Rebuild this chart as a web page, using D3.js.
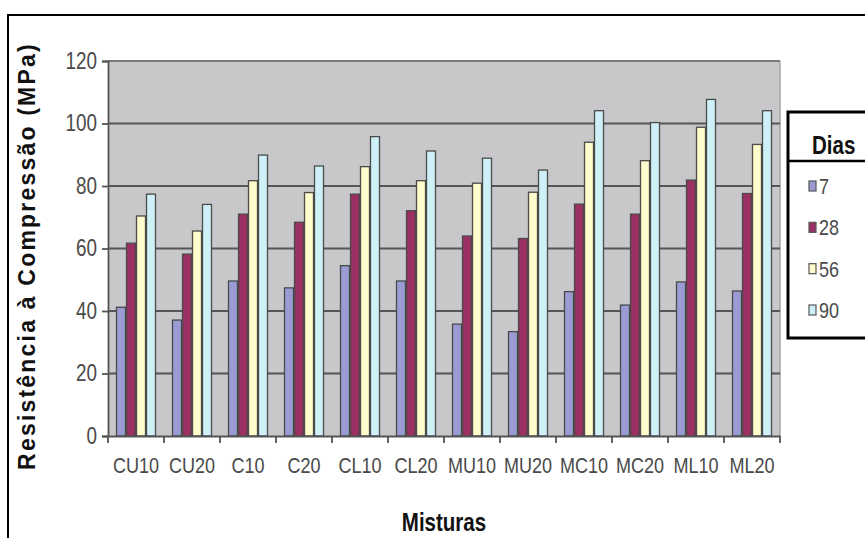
<!DOCTYPE html>
<html>
<head>
<meta charset="utf-8">
<script src="https://cdn.jsdelivr.net/npm/d3@7/dist/d3.min.js"></script>
<style>
  html, body { margin: 0; padding: 0; background: #fff; }
  svg { display: block; }
  text { font-family: "Liberation Sans", Arial, sans-serif; }
</style>
</head>
<body>
<svg id="chart" width="865" height="538"></svg>
<script>
// Compressive strength by mix and curing age
const misturas = ["CU10", "CU20", "C10", "C20", "CL10", "CL20", "MU10", "MU20", "MC10", "MC20", "ML10", "ML20"];
const dias = ["7", "28", "56", "90"];
const dias7  = [41.2, 37.1, 49.6, 47.4, 54.5, 49.6, 35.8, 33.4, 46.2, 41.9, 49.3, 46.4];
const dias28 = [61.7, 58.2, 71.0, 68.4, 77.4, 72.1, 64.0, 63.2, 74.2, 71.0, 81.9, 77.6];
const dias56 = [70.4, 65.6, 81.7, 77.9, 86.2, 81.7, 80.9, 78.0, 94.0, 88.1, 98.8, 93.3];
const dias90 = [77.4, 74.1, 89.9, 86.4, 95.8, 91.2, 88.9, 85.1, 104.1, 100.3, 107.7, 104.1];
const yTicks = [0, 20, 40, 60, 80, 100, 120];
const cores = ["#9b9bd4", "#9b2f63", "#fefccb", "#cdf1f7"];

const series = [dias7, dias28, dias56, dias90];

// condensed look: squeeze text horizontally around its own anchor x
const SX = 0.82;
function narrow(sel) {
  sel.attr("transform", function () {
    const x0 = +(this.getAttribute("x") || 0);
    return `translate(${x0 * (1 - SX)},0) scale(${SX},1)`;
  });
}

const svg = d3.select("#chart");

// outer frame
svg.append("rect")
  .attr("x", 8).attr("y", 15).attr("width", 900).attr("height", 600)
  .attr("fill", "none").attr("stroke", "#000").attr("stroke-width", 2);

const plot = { left: 108, right: 780, top: 61, bottom: 436 };

const x = d3.scaleBand().domain(misturas).range([plot.left, plot.right]).paddingInner(0).paddingOuter(0);
const xSub = d3.scaleBand().domain(dias).range([0, x.bandwidth()]).paddingInner(0).paddingOuter(0.8);
const y = d3.scaleLinear().domain([0, 120]).range([plot.bottom, plot.top]);

// plot area background
svg.append("rect")
  .attr("x", plot.left).attr("y", plot.top)
  .attr("width", plot.right - plot.left).attr("height", plot.bottom - plot.top)
  .attr("fill", "#c8c8ca");
svg.append("line")
  .attr("x1", plot.right).attr("x2", plot.right).attr("y1", plot.top).attr("y2", plot.bottom)
  .attr("stroke", "#a4a4a6").attr("stroke-width", 1.5);

// horizontal gridlines
svg.append("g")
  .selectAll("line")
  .data(yTicks.filter(d => d > 0))
  .join("line")
  .attr("x1", plot.left).attr("x2", plot.right)
  .attr("y1", d => y(d)).attr("y2", d => y(d))
  .attr("stroke", d => d === 120 ? "#7a7a7c" : "#555557")
  .attr("stroke-width", 1.8);

// bars
const groups = svg.append("g")
  .selectAll("g")
  .data(misturas)
  .join("g")
  .attr("transform", d => `translate(${x(d)},0)`);

groups.selectAll("rect")
  .data((m, i) => dias.map((d, k) => ({ dia: d, k, v: series[k][i] })))
  .join("rect")
  .attr("x", d => xSub(d.dia) + 0.5)
  .attr("width", xSub.bandwidth() - 1)
  .attr("y", d => y(d.v))
  .attr("height", d => y(0) - y(d.v))
  .attr("fill", d => cores[d.k])
  .attr("stroke", "#4a4a4a")
  .attr("stroke-width", 1.3);

// y axis
const yAxis = d3.axisLeft(y).tickValues(yTicks).tickSize(6).tickPadding(5);
const gy = svg.append("g").attr("transform", `translate(${plot.left},0)`).call(yAxis);
gy.attr("font-family", null);
gy.select(".domain").attr("stroke", "#555").attr("stroke-width", 1.8);
gy.selectAll(".tick line").attr("stroke", "#555").attr("stroke-width", 1.8);
gy.selectAll(".tick text")
  .attr("font-size", 23).attr("fill", "#4a4a4a")
  .call(narrow);

// x axis with ticks on category boundaries
const xAxis = d3.axisBottom(x).tickSize(0).tickPadding(21);
const gx = svg.append("g").attr("transform", `translate(0,${plot.bottom})`).call(xAxis);
gx.attr("font-family", null);
gx.select(".domain").attr("stroke", "#555").attr("stroke-width", 1.8);
gx.selectAll(".tick text")
  .attr("font-size", 22).attr("fill", "#4a4a4a")
  .call(narrow);
gx.selectAll(".boundary")
  .data(misturas.map(m => x(m)).concat([plot.right]))
  .join("line")
  .attr("class", "boundary")
  .attr("x1", d => d).attr("x2", d => d)
  .attr("y1", 0).attr("y2", 7)
  .attr("stroke", "#555").attr("stroke-width", 1.8);

// axis titles
svg.append("text")
  .attr("transform", "translate(35,256) rotate(-90)")
  .attr("text-anchor", "middle")
  .attr("font-weight", "bold")
  .attr("font-size", 23)
  .attr("letter-spacing", 2.2)
  .attr("fill", "#111")
  .text("Resistência à Compressão (MPa)");

svg.append("text")
  .attr("x", (plot.left + plot.right) / 2).attr("y", 531)
  .attr("text-anchor", "middle")
  .attr("font-weight", "bold")
  .attr("font-size", 25)
  .attr("fill", "#111")
  .text("Misturas")
  .call(narrow);

// legend
const leg = svg.append("g");
leg.append("rect")
  .attr("x", 788).attr("y", 112).attr("width", 120).attr("height", 226)
  .attr("fill", "#fff").attr("stroke", "#000").attr("stroke-width", 3);
leg.append("line")
  .attr("x1", 788).attr("x2", 870).attr("y1", 161).attr("y2", 161)
  .attr("stroke", "#000").attr("stroke-width", 2.5);
leg.append("text")
  .attr("x", 812).attr("y", 154)
  .attr("font-weight", "bold").attr("font-size", 25).attr("fill", "#111")
  .text("Dias")
  .call(narrow);

const legY = d3.scalePoint().domain(dias).range([186, 310]);
const items = leg.selectAll(".item").data(dias).join("g").attr("class", "item")
  .attr("transform", d => `translate(0,${legY(d)})`);
items.append("rect")
  .attr("x", 809).attr("y", -5).attr("width", 7).attr("height", 10)
  .attr("fill", (d, i) => cores[i]).attr("stroke", "#555").attr("stroke-width", 1.2);
items.append("text")
  .attr("x", 819).attr("y", 8)
  .attr("font-size", 22).attr("fill", "#4a4a4a")
  .text(d => d)
  .call(narrow);
</script>
</body>
</html>
